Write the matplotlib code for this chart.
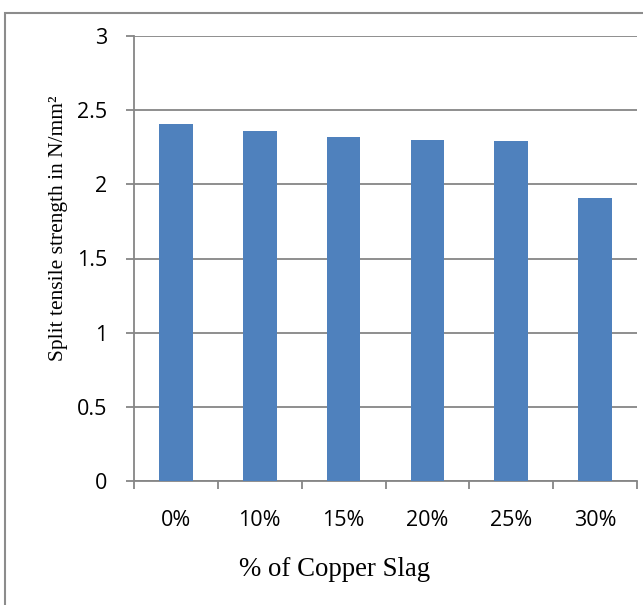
import numpy as np
import matplotlib
matplotlib.use("Agg")
import matplotlib.pyplot as plt
from matplotlib.patches import Rectangle

# split tensile strength for each copper slag replacement level
categories = ["0%", "10%", "15%", "20%", "25%", "30%"]
strength = [2.41, 2.36, 2.32, 2.30, 2.29, 1.91]
y_ticks = [0, 0.5, 1, 1.5, 2, 2.5, 3]

BAR_COLOR = "#4F81BD"
GRID_COLOR = "#868686"

fig = plt.figure(figsize=(6.43, 6.05), dpi=100)
ax = fig.add_axes([134 / 643, 1 - 481 / 605, 503 / 643, 445 / 605])

x = np.arange(len(categories))
ax.bar(x, strength, width=0.4, color=BAR_COLOR, zorder=3)

ax.set_xlim(-0.5, len(categories) - 0.5)
ax.set_ylim(0, 3)

# horizontal gridlines, including the one at the top
ax.set_yticks(y_ticks)
ax.set_yticklabels([f"{v:g}" for v in y_ticks])
ax.grid(axis="y", color=GRID_COLOR, linewidth=1.3, zorder=0)
ax.set_axisbelow(True)

# category labels centred, tick marks on the boundaries
ax.set_xticks(x)
ax.set_xticklabels(categories)
ax.set_xticks(np.arange(-0.5, len(categories)), minor=True)
ax.tick_params(axis="x", which="major", length=0, pad=21)
ax.tick_params(axis="x", which="minor", length=6, width=1.3, color=GRID_COLOR)
ax.tick_params(axis="y", length=5.8, width=1.3, color=GRID_COLOR, pad=13.5)

for lab in ax.get_xticklabels() + ax.get_yticklabels():
    lab.set_fontfamily("Open Sans")
    lab.set_fontsize(15.5)

for side in ["top", "right"]:
    ax.spines[side].set_visible(False)
for side in ["left", "bottom"]:
    ax.spines[side].set_color(GRID_COLOR)
    ax.spines[side].set_linewidth(1.3)

ax.set_xlabel("% of Copper Slag", fontfamily="Liberation Serif", fontsize=19.3)
ax.xaxis.set_label_coords(0.398, -0.171)
ax.set_ylabel("Split tensile strength in N/mm²", fontfamily="Liberation Serif", fontsize=15.5)
ax.yaxis.set_label_coords(-0.131, 0.567)

# chart frame
fig.patches.append(Rectangle((5 / 643, -0.1), 1.2, 1 - 12.5 / 605 + 0.1,
                             transform=fig.transFigure, fill=False,
                             edgecolor="#8c8c8c", linewidth=1.5))

fig.savefig("out.png", dpi=100)
